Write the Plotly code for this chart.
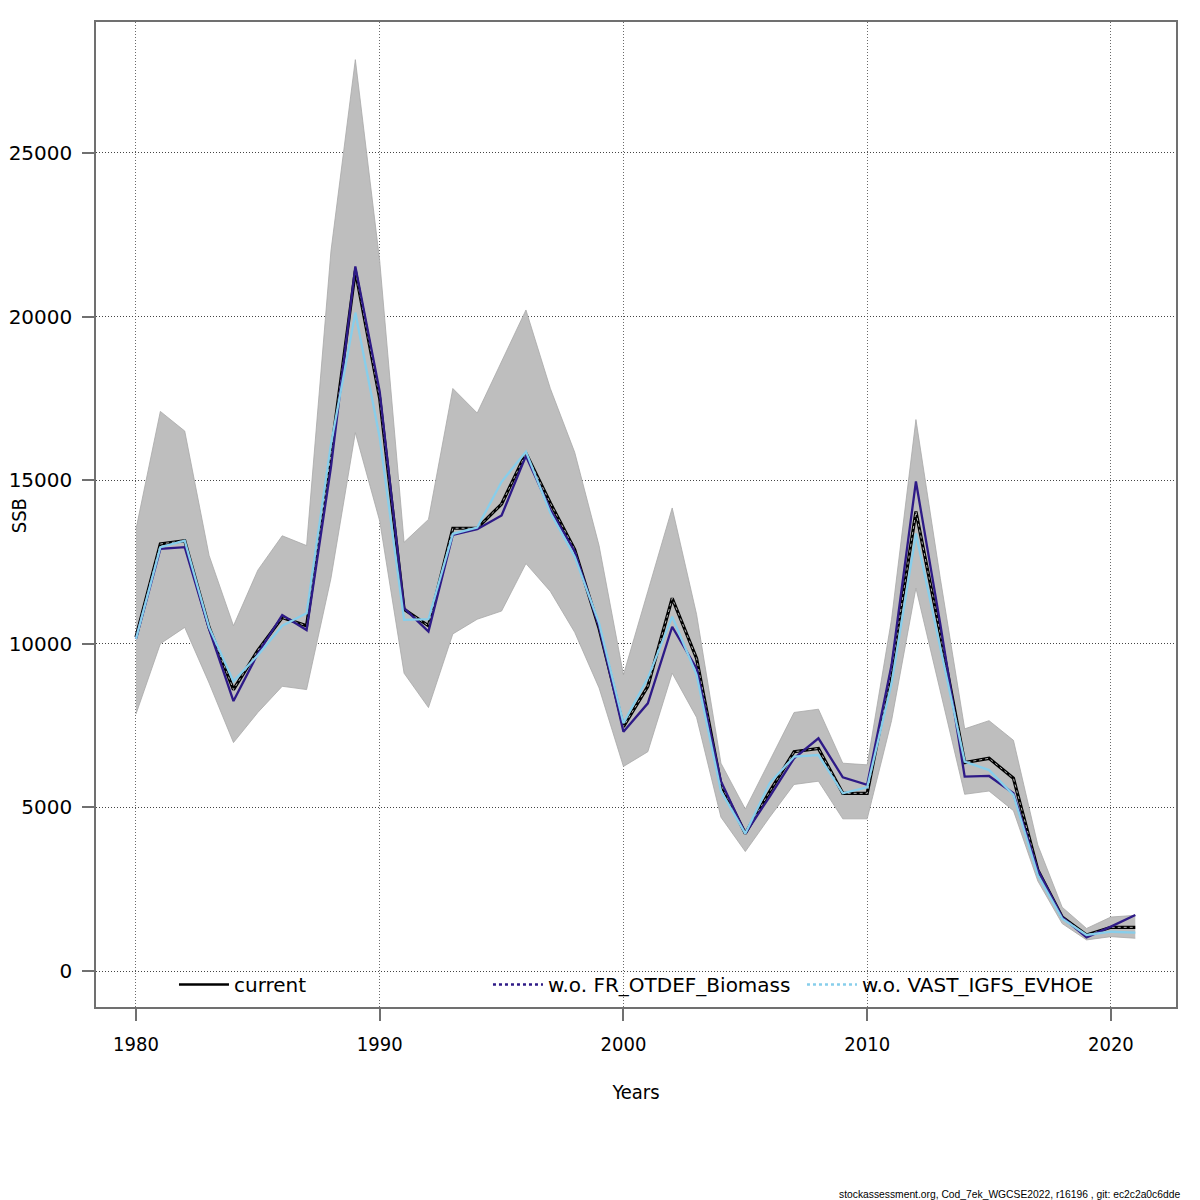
"""SSB with confidence band for the current run and two leave-out runs."""

import plotly.graph_objects as go

YEARS = list(range(1980, 2022))

SSB_CURRENT = [
    10200, 13050, 13150, 10500, 8600, 9800, 10800, 10550, 15800, 21400,
    17500, 11050, 10550, 13530, 13530, 14270, 15820, 14300, 12880, 10470,
    7470, 8700, 11390, 9550, 5700, 4200, 5480, 6700, 6800, 5430,
    5430, 9200, 14040, 10300, 6370, 6500, 5890, 3090, 1650, 1100,
    1335, 1335,
]
SSB_UPPER = [
    13500, 17100, 16500, 12700, 10550, 12250, 13300, 13000, 22000, 27850,
    21700, 13100, 13800, 17800, 17050, 18600, 20200, 17800, 15850, 13000,
    9050, 11600, 14150, 10900, 6350, 4950, 6450, 7900, 8000, 6350,
    6300, 10750, 16850, 12000, 7400, 7650, 7050, 3850, 1950, 1300,
    1650, 1700,
]
SSB_LOWER = [
    7850, 10000, 10500, 8800, 6980, 7900, 8700, 8600, 12000, 16450,
    13750, 9100, 8050, 10300, 10750, 11000, 12450, 11600, 10350, 8650,
    6250, 6700, 9100, 7750, 4700, 3650, 4700, 5700, 5800, 4650,
    4650, 7650, 11700, 8500, 5400, 5500, 4900, 2750, 1450, 950,
    1050, 1000,
]
SSB_WO_FR_OTDEF = [
    10150, 12900, 12950, 10450, 8250, 9700, 10880, 10420, 15400, 21530,
    17700, 11090, 10370, 13330, 13500, 13920, 15740, 14100, 12820, 10520,
    7310, 8180, 10520, 9250, 5800, 4200, 5330, 6500, 7110, 5920,
    5690, 9350, 14960, 10600, 5940, 5960, 5430, 3090, 1650, 1030,
    1355, 1710,
]
SSB_WO_VAST = [
    10150, 12950, 13150, 10500, 8850, 9650, 10550, 10930, 16100, 20120,
    16300, 10730, 10750, 13360, 13550, 14950, 15870, 14000, 12660, 10630,
    7570, 8950, 10830, 9050, 5500, 4200, 5740, 6550, 6600, 5430,
    5610, 8790, 13370, 9900, 6400, 6140, 5380, 2930, 1600, 1100,
    1200, 1170,
]

Y_TICKS = [0, 5000, 10000, 15000, 20000, 25000]
X_TICKS = [1980, 1990, 2000, 2010, 2020]

FONT = "DejaVu Sans"
FONT_NARROW = "DejaVu Sans Condensed, DejaVu Sans"
NAVY = "#2e1a87"
SKY = "#87ceeb"


def main():
    fig = go.Figure()

    # confidence band
    fig.add_trace(go.Scatter(
        x=YEARS, y=SSB_UPPER, mode="lines",
        line=dict(color="#a8a8a8", width=0.8),
        showlegend=False, hoverinfo="skip",
    ))
    fig.add_trace(go.Scatter(
        x=YEARS, y=SSB_LOWER, mode="lines", fill="tonexty",
        fillcolor="#bebebe", line=dict(color="#a8a8a8", width=0.8),
        showlegend=False, hoverinfo="skip",
    ))

    # current run: thick black with a light dashed core
    fig.add_trace(go.Scatter(
        x=YEARS, y=SSB_CURRENT, mode="lines",
        line=dict(color="black", width=3.2),
        name="current", showlegend=False,
    ))
    fig.add_trace(go.Scatter(
        x=YEARS, y=SSB_CURRENT, mode="lines",
        line=dict(color="#b0b0b0", width=1, dash="3px,3px"),
        showlegend=False, hoverinfo="skip",
    ))
    fig.add_trace(go.Scatter(
        x=YEARS, y=SSB_WO_FR_OTDEF, mode="lines",
        line=dict(color=NAVY, width=2.3),
        name="w.o. FR_OTDEF_Biomass", showlegend=False,
    ))
    fig.add_trace(go.Scatter(
        x=YEARS, y=SSB_WO_VAST, mode="lines",
        line=dict(color=SKY, width=2.3),
        name="w.o. VAST_IGFS_EVHOE", showlegend=False,
    ))

    # legend entries
    fig.add_trace(go.Scatter(
        x=[None], y=[None], mode="lines",
        line=dict(color="black", width=2.5), name="current",
    ))
    fig.add_trace(go.Scatter(
        x=[None], y=[None], mode="lines",
        line=dict(color=NAVY, width=2.5, dash="dot"), name="w.o. FR_OTDEF_Biomass",
    ))
    fig.add_trace(go.Scatter(
        x=[None], y=[None], mode="lines",
        line=dict(color=SKY, width=2.5, dash="dot"), name="w.o. VAST_IGFS_EVHOE",
    ))

    axis_common = dict(
        showgrid=True, gridwidth=1, griddash="1px,2px",
        zeroline=False, showline=True, linecolor="#707070", linewidth=1.5,
        mirror=True, ticks="outside", ticklen=12, tickcolor="#707070",
        tickwidth=1.5, automargin=False,
    )

    # page body adds an 8px margin, so the figure is 1192 px and margins are shifted
    fig.update_layout(
        width=1192, height=1192,
        margin=dict(l=88, r=24, t=14, b=193),
        paper_bgcolor="white", plot_bgcolor="white",
        font=dict(family=FONT, color="black"),
        xaxis=dict(
            range=[1978.36, 2022.67], tickvals=X_TICKS, tickformat="d",
            gridcolor="#6a6a6a", ticklabelstandoff=6,
            tickfont=dict(family=FONT_NARROW, size=20, color="black"),
            title=dict(text="Years", font=dict(family=FONT_NARROW, size=20),
                       standoff=30),
            **axis_common,
        ),
        yaxis=dict(
            range=[-1100, 29000], tickvals=Y_TICKS, tickformat="d",
            gridcolor="#444444", ticklabelstandoff=6,
            tickfont=dict(family=FONT, size=20, color="black"),
            **axis_common,
        ),
        legend=dict(
            orientation="h", x=0.0722, y=0.003, xanchor="left", yanchor="bottom",
            traceorder="normal",
            bgcolor="rgba(0,0,0,0)", font=dict(family=FONT, size=20),
            entrywidth=249, itemwidth=50,
        ),
        showlegend=True,
    )

    fig.add_annotation(
        text="SSB", textangle=-90,
        xref="paper", yref="paper", x=-0.071, y=0.4985,
        xanchor="center", yanchor="middle", showarrow=False,
        font=dict(family=FONT_NARROW, size=20, color="black"),
    )
    fig.add_annotation(
        text="stockassessment.org, Cod_7ek_WGCSE2022, r16196 , git: ec2c2a0c6dde",
        xref="paper", yref="paper", x=1.0055, y=-0.19,
        xanchor="right", yanchor="middle", showarrow=False,
        font=dict(family="Liberation Sans", size=10.3, color="black"),
    )

    fig.write_html("out.html")


if __name__ == "__main__":
    main()
